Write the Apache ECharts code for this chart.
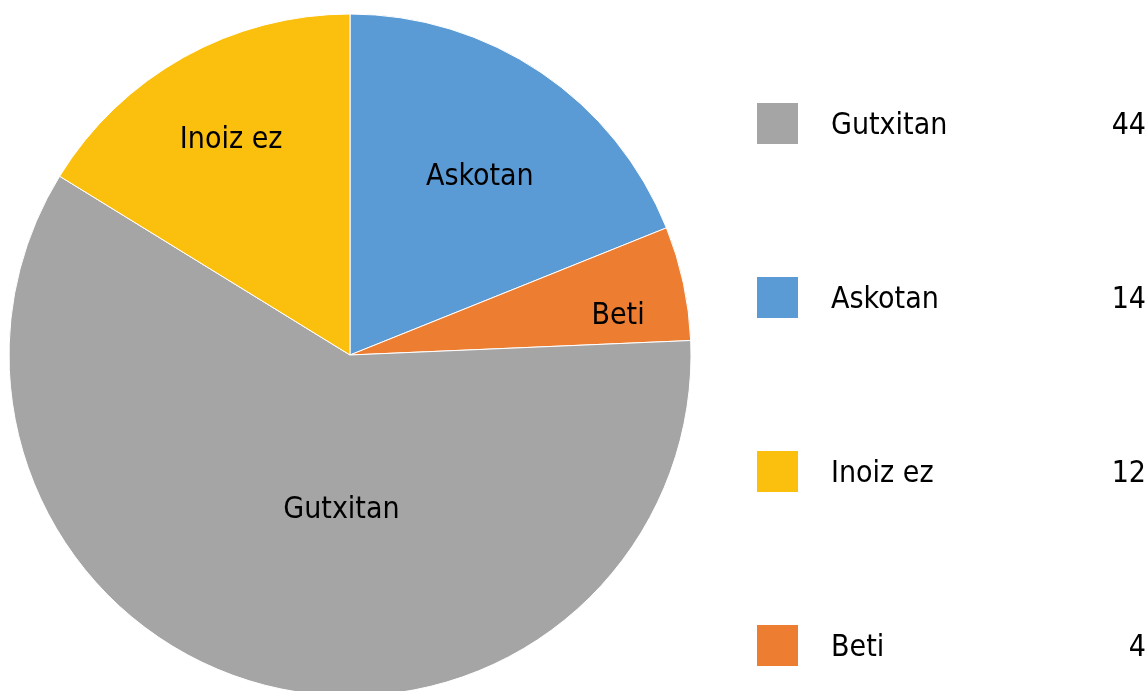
<!DOCTYPE html>
<html>
<head>
<meta charset="utf-8">
<script src="https://cdn.jsdelivr.net/npm/echarts@6/dist/echarts.min.js"></script>
<style>
  html, body { margin: 0; padding: 0; background: #fff; }
  #chart { width: 1148px; height: 691px; }
</style>
</head>
<body>
<div id="chart"></div>
<script>
// slices, clockwise from 12 o'clock
const categories = ['Askotan', 'Beti', 'Gutxitan', 'Inoiz ez']
const values = [14, 4, 44, 12]
const colors = ['#5B9BD5', '#ED7D31', '#A5A5A5', '#FBBF0E']
// legend order as in the picture
const legendOrder = ['Gutxitan', 'Askotan', 'Inoiz ez', 'Beti']
// label placement: share of radius and small turn (deg) from slice middle
const labelFrac = [0.65, 0.795, 0.45, 0.726]
const labelTurn = [1.8, 3.6, -11.4, 0.5]

const font = '"Liberation Sans Narrow", "DejaVu Sans Condensed", sans-serif'
const fs = 30
const cx = 350, cy = 355, r = 341
const total = values.reduce((a, b) => a + b, 0)

const chart = echarts.init(document.getElementById('chart'), null, { renderer: 'canvas' })

chart.setOption({
  animation: false,
  color: colors,
  legend: {
    orient: 'vertical',
    left: 750,
    top: 96,
    itemWidth: 43,
    itemHeight: 43,
    itemGap: 129,
    icon: 'rect',
    data: legendOrder,
    formatter: (name) => {
      const v = values[categories.indexOf(name)]
      return '{n|' + name + '}{v|' + v + '}'
    },
    textStyle: {
      rich: {
        n: { width: 250, padding: [5, 0, 0, 27], fontSize: fs, fontFamily: font, color: '#000' },
        v: { width: 65, align: 'right', padding: [5, 0, 0, 0], fontSize: fs, fontFamily: font, color: '#000' }
      }
    }
  },
  series: [{
    type: 'pie',
    center: [cx, cy],
    radius: r,
    startAngle: 90,
    clockwise: true,
    data: categories.map((c, i) => ({ name: c, value: values[i] })),
    itemStyle: { borderColor: '#fff', borderWidth: 1 },
    label: {
      show: true,
      position: 'inside',
      formatter: '{b}',
      fontSize: fs,
      fontFamily: font,
      color: '#000'
    },
    labelLine: { show: false },
    labelLayout: (params) => {
      const i = params.dataIndex
      let before = 0
      for (let k = 0; k < i; k++) before += values[k]
      const mid = (before + values[i] / 2) / total * Math.PI * 2 + labelTurn[i] * Math.PI / 180
      const d = r * labelFrac[i]
      return {
        x: cx + d * Math.sin(mid),
        y: cy - d * Math.cos(mid) + 2,
        align: 'center',
        verticalAlign: 'middle'
      }
    }
  }]
})
</script>
</body>
</html>
